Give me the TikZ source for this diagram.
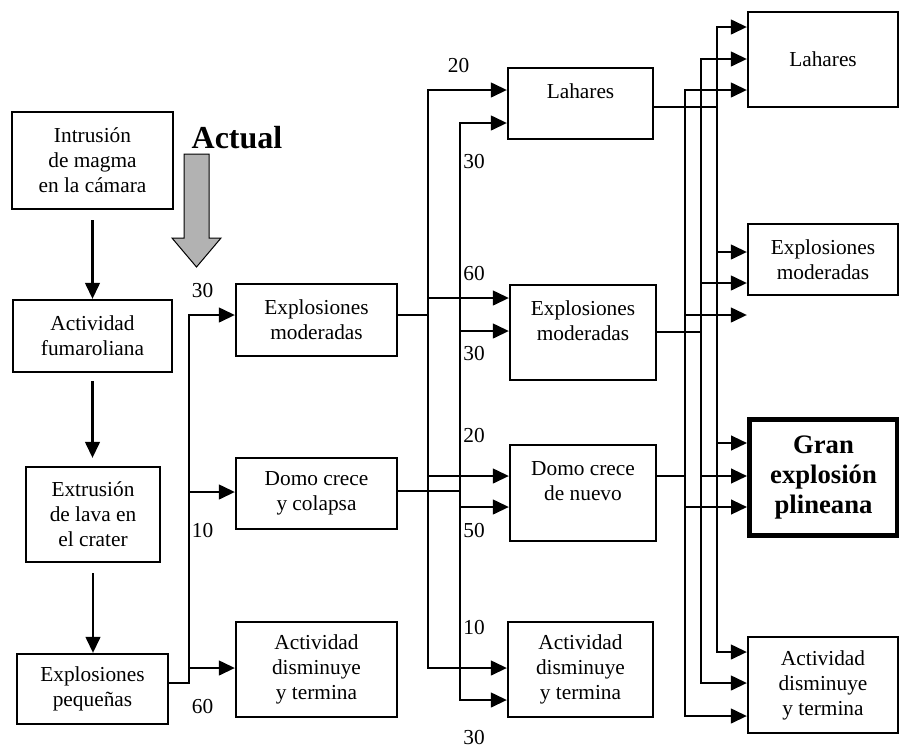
\documentclass[tikz,border=0pt]{standalone}
\usepackage{fontspec}
\setmainfont{Liberation Serif}
\usepackage{tikz}
\usetikzlibrary{arrows.meta}

\begin{document}
\begin{tikzpicture}[x=0.75pt,y=-0.75pt,
    caja/.style={draw,line width=1.7pt,align=center,inner sep=0pt,font=\fontsize{16}{18.75}\selectfont},
    texto/.style={align=center,inner sep=0pt,font=\fontsize{16}{18.75}\selectfont},
    cifra/.style={anchor=base,inner sep=0pt,font=\fontsize{16}{18.75}\selectfont},
    linea/.style={line width=1.7pt},
    flecha/.style={-{Triangle[length=12pt,width=11pt]},line width=1.7pt}]
    \useasboundingbox (0,0) rectangle (899,747);

    % secuencia inicial
    \node[caja,minimum width=120.75pt,minimum height=72.75pt] (intr) at (92.5,160.5) {Intrusión\\de magma\\en la cámara};
    \node[caja,minimum width=119.25pt,minimum height=54pt] (fum) at (92.5,336) {Actividad\\fumaroliana};
    \node[caja,minimum width=100.5pt,minimum height=71.25pt] (extr) at (93,514.5) {Extrusión\\de lava en\\el crater};
    \node[caja,minimum width=113.25pt,minimum height=52.5pt] (peq) at (92.5,689) {Explosiones\\pequeñas};

    \draw[flecha,shorten <=7.5pt] (intr.south) -- (intr.south |- fum.north);
    \draw[flecha,shorten <=6pt,shorten >=6pt] (fum.south) -- (fum.south |- extr.north);
    \draw[flecha,shorten <=7.5pt] (extr.south) -- (extr.south |- peq.north);

    % flecha gris
    \node[anchor=base,inner sep=0pt,font=\bfseries\fontsize{24}{28}\selectfont] (actual) at (237,148) {Actual};
    \draw[line width=0.75pt,fill=black!30] (184,154) -- (209,154) -- (209,238) -- (221,238) -- (196.5,267) -- (172,238) -- (184,238) -- cycle;

    % segunda columna
    \node[caja,minimum width=120.75pt,minimum height=54pt] (exm1) at (316.5,320) {Explosiones\\moderadas};
    \node[caja,minimum width=120.75pt,minimum height=53.25pt] (dom1) at (316.5,493.5) {Domo crece\\y colapsa};
    \node[caja,minimum width=120.75pt,minimum height=71.25pt] (act1) at (316.5,669.5) {Actividad\\disminuye\\y termina};

    \draw[flecha] ([yshift=4.5pt]peq.east) -| (189,315) -- (exm1.west |- 189,315);
    \draw[flecha] (189,492) -- (dom1.west |- 189,492);
    \draw[flecha] (189,668) -- (act1.west |- 189,668);

    \node[cifra] (n30a) at (202.5,297) {30};
    \node[cifra] (n10a) at (202.5,537) {10};
    \node[cifra] (n60a) at (202.5,713) {60};

    % tercera columna
    \node[caja,minimum width=108.75pt,minimum height=53.25pt] (lah2) at (580.5,103.5) {};
    \node[texto] (tlah2) at ([yshift=9.6pt]lah2.center) {Lahares};
    \node[caja,minimum width=109.5pt,minimum height=71.25pt] (exm2) at (583,332.5) {};
    \node[texto] (texm2) at ([yshift=9pt]exm2.center) {Explosiones\\moderadas};
    \node[caja,minimum width=109.5pt,minimum height=72pt] (dom2) at (583,493) {};
    \node[texto] (tdom2) at ([yshift=9pt]dom2.center) {Domo crece\\de nuevo};
    \node[caja,minimum width=108.75pt,minimum height=71.25pt] (act2) at (580.5,669.5) {Actividad\\disminuye\\y termina};

    % desde Explosiones moderadas
    \draw[linea] (exm1.east |- 428,315) -- (428,315);
    \draw[flecha] (428,668) |- (lah2.west |- 428,90);
    \draw[flecha] (428,90) |- (act2.west |- 428,668);
    \draw[flecha] (428,298) -- (exm2.west |- 428,298);
    \draw[flecha] (428,476) -- (dom2.west |- 428,476);

    % desde Domo crece y colapsa
    \draw[linea] (dom1.east |- 460,491) -- (460,491);
    \draw[flecha] (460,700) |- (lah2.west |- 460,123);
    \draw[flecha] (460,123) |- (act2.west |- 460,700);
    \draw[flecha] (460,331) -- (exm2.west |- 460,331);
    \draw[flecha] (460,507) -- (dom2.west |- 460,507);

    \node[cifra] (n20b) at (458.5,72) {20};
    \node[cifra] (n30b) at (474,168) {30};
    \node[cifra] (n60b) at (474,280) {60};
    \node[cifra] (n30c) at (474,360) {30};
    \node[cifra] (n20c) at (474,442) {20};
    \node[cifra] (n50c) at (474,537) {50};
    \node[cifra] (n10c) at (474,634) {10};
    \node[cifra] (n30d) at (474,744) {30};

    % cuarta columna
    \node[caja,minimum width=112.5pt,minimum height=71.25pt] (lah3) at (823,59.5) {Lahares};
    \node[caja,minimum width=112.5pt,minimum height=53.25pt] (exm3) at (823,259.5) {Explosiones\\moderadas};
    \node[caja,line width=3.75pt,minimum width=111pt,minimum height=87pt,font=\bfseries\fontsize{20}{22.5}\selectfont] (gran) at (823.5,477.5) {Gran\\explosión\\plineana};
    \node[caja,minimum width=112.5pt,minimum height=72pt] (act3) at (823,685) {Actividad\\disminuye\\y termina};

    % desde Lahares
    \draw[linea] (lah2.east |- 717,107) -- (717,107);
    \draw[flecha] (717,652) |- (lah3.west |- 717,27);
    \draw[flecha] (717,27) |- (act3.west |- 717,652);
    \draw[flecha] (717,252) -- (exm3.west |- 717,252);
    \draw[flecha] (717,443) -- (gran.west |- 717,443);

    % desde Explosiones moderadas
    \draw[linea] (exm2.east |- 701,332) -- (701,332);
    \draw[flecha] (701,683) |- (lah3.west |- 701,59);
    \draw[flecha] (701,59) |- (act3.west |- 701,683);
    \draw[flecha] (701,283) -- (exm3.west |- 701,283);
    \draw[flecha] (701,476) -- (gran.west |- 701,476);

    % desde Domo crece de nuevo
    \draw[linea] (dom2.east |- 685,476) -- (685,476);
    \draw[flecha] (685,716) |- (lah3.west |- 685,90);
    \draw[flecha] (685,90) |- (act3.west |- 685,716);
    \draw[flecha] (685,315) -- (exm3.west |- 685,315);
    \draw[flecha] (685,507) -- (gran.west |- 685,507);
\end{tikzpicture}
\end{document}
